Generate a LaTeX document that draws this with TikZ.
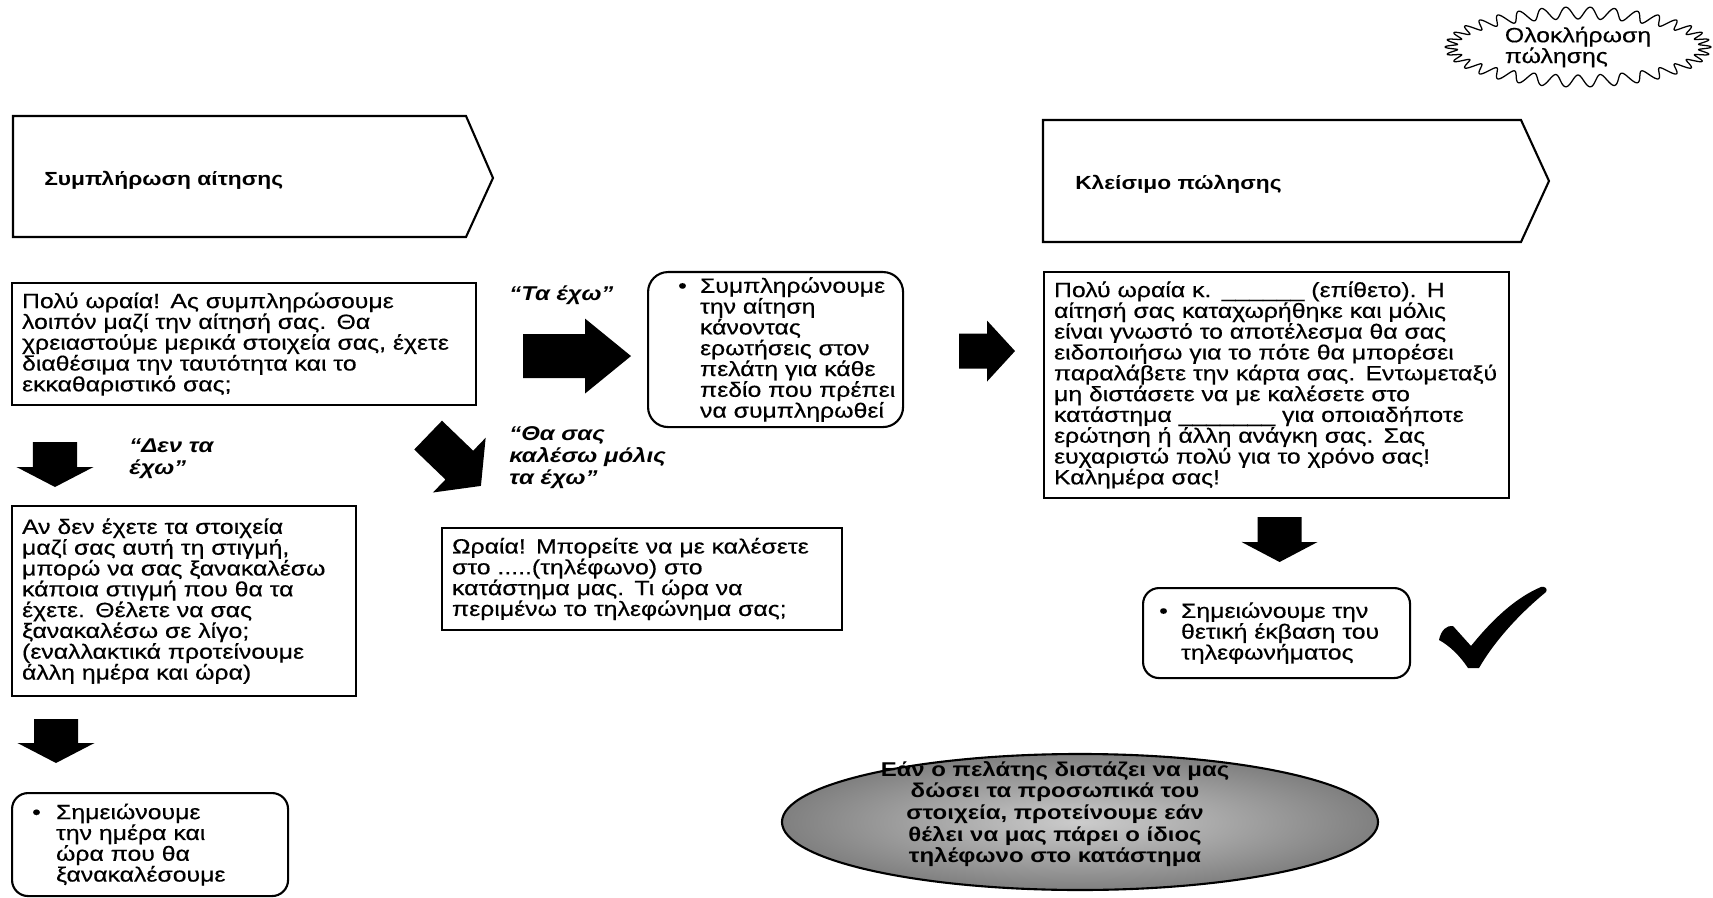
\documentclass[tikz,border=0pt]{standalone}
\usepackage{fontspec}
\setmainfont{Liberation Sans}[FakeStretch=1.2, UprightFeatures={FakeBold=0.4}]
\usetikzlibrary{calc,shapes.geometric}
\newcommand\txtfont{\fontsize{14.7pt}{14.8pt}\selectfont\lineskiplimit=-10pt}
\newcommand\hdfont{\fontsize{13.5pt}{15pt}\selectfont\bfseries}
\newcommand\lblfont{\fontsize{14.2pt}{15.6pt}\selectfont\bfseries\itshape\lineskiplimit=-10pt}
\newcommand\hintfont{\fontsize{14.2pt}{15.4pt}\selectfont\bfseries\lineskiplimit=-10pt}
\tikzset{
  frame/.style={draw=black, line width=1.5pt},
  txtbox/.style={frame, anchor=north west, align=left, inner xsep=2.5mm, inner ysep=1mm, font=\txtfont},
  note/.style={txtbox, rounded corners=5mm, inner xsep=1mm},
  lbl/.style={anchor=west, align=left, inner sep=0pt, font=\lblfont},
  hd/.style={anchor=west, inner sep=0pt, font=\hdfont},
  % block arrow: shaft width, head width, head length
  blk/.style n args={3}{fill=black, to path={
    let \p1=(\tikztostart), \p2=(\tikztotarget),
        \n1={atan2(\y2-\y1,\x2-\x1)}, \n2={veclen(\x2-\x1,\y2-\y1)} in
    {[shift={(\p1)}, rotate=\n1]
      (0pt,-#1/2) -- ({\n2-#3},-#1/2) -- ({\n2-#3},-#2/2) -- ({\n2},0pt)
      -- ({\n2-#3},#2/2) -- ({\n2-#3},#1/2) -- (0pt,#1/2) -- cycle}}},
  hint/.style={ellipse, draw=black, line width=1.5pt, inner color=black!20, outer color=black!50},
  burst/.style={draw=black, line width=0.9pt, line join=round}
}
\begin{document}
\begin{tikzpicture}[x=0.25mm, y=-0.25mm]
  \useasboundingbox (0,0) rectangle (1713,898);

  % stage headers
  \draw[frame] (13,116) -- (466,116) -- (493,178) -- (466,237) -- (13,237) -- cycle;
  \node[hd] (fillhd) at (44,180) {Συμπλήρωση αίτησης};
  \draw[frame] (1043,120) -- (1521,120) -- (1549,181) -- (1521,242) -- (1043,242) -- cycle;
  \node[hd] (closehd) at (1075,184) {Κλείσιμο πώλησης};

  % end of sale
  \node[font=\txtfont, align=left, inner sep=0pt] (done) at (1578,47) {Ολοκλήρωση\\πώλησης};
  \draw[burst] plot[domain=0:360, samples=721]
    ({1578+(127+6*cos(34*\x))*cos(\x)}, {47+(34+6*cos(34*\x))*sin(\x)}) -- cycle;

  % text boxes
  \node[txtbox, text width=111mm, minimum height=30.5mm] (intro) at (11,282)
    {Πολύ ωραία! Ας συμπληρώσουμε\\ λοιπόν μαζί την αίτησή σας. Θα\\
     χρειαστούμε μερικά στοιχεία σας, έχετε\\ διαθέσιμα την ταυτότητα και το\\
     εκκαθαριστικό σας;};
  \node[note, text width=61.75mm, minimum height=38.75mm] (fill) at (647,271)
    {\leftskip=12mm \llap{\textbullet\hspace{3.3mm}}Συμπληρώνουμε\\ την αίτηση\\ κάνοντας\\
     ερωτήσεις στον\\ πελάτη για κάθε\\ πεδίο που πρέπει\\ να συμπληρωθεί\par};
  \node[txtbox, text width=111.25mm, minimum height=56.5mm] (close) at (1043,271)
    {Πολύ ωραία κ. \_\_\_\_\_\_ (επίθετο). Η\\ αίτησή σας καταχωρήθηκε και μόλις\\
     είναι γνωστό το αποτέλεσμα θα σας\\ ειδοποιήσω για το πότε θα μπορέσει\\
     παραλάβετε την κάρτα σας. Εντωμεταξύ\\ μη διστάσετε να με καλέσετε στο\\
     κατάστημα \_\_\_\_\_\_\_ για οποιαδήποτε\\ ερώτηση ή άλλη ανάγκη σας. Σας\\
     ευχαριστώ πολύ για το χρόνο σας!\\ Καλημέρα σας!};
  \node[txtbox, text width=81mm, minimum height=47.5mm] (nohave) at (11,505)
    {Αν δεν έχετε τα στοιχεία\\ μαζί σας αυτή τη στιγμή,\\ μπορώ να σας ξανακαλέσω\\
     κάποια στιγμή που θα τα\\ έχετε. Θέλετε να σας\\ ξανακαλέσω σε λίγο;\\
     (εναλλακτικά προτείνουμε\\ άλλη ημέρα και ώρα)};
  \node[txtbox, text width=95mm, minimum height=25.5mm] (later) at (441,527)
    {Ωραία! Μπορείτε να με καλέσετε\\ στο .....(τηλέφωνο) στο\\
     κατάστημα μας. Τι ώρα να\\ περιμένω το τηλεφώνημα σας;};
  \node[note, rounded corners=4mm, text width=67mm, minimum height=25.75mm] (note1) at (11,792)
    {\leftskip=10mm \llap{\textbullet\hspace{3.8mm}}Σημειώνουμε\\ την ημέρα και\\
     ώρα που θα\\ ξανακαλέσουμε\par};
  \node[note, rounded corners=4mm, text width=64.75mm, minimum height=22.5mm] (note2) at (1142,587)
    {\leftskip=8.5mm \llap{\textbullet\hspace{3.3mm}}Σημειώνουμε την\\ θετική έκβαση του\\
     τηλεφωνήματος\par};

  % answers
  \node[lbl] (havelbl) at (509,295) {“Τα έχω”};
  \node[lbl] (nohavelbl) at (129,459) {“Δεν τα\\ έχω”};
  \node[lbl] (laterlbl) at (509,458) {“Θα σας\\ καλέσω μόλις\\ τα έχω”};

  % block arrows
  \fill[blk={11mm}{18.75mm}{11.5mm}] ($(intro.east)+(46,12)$) to ($(fill.west)+(-16,6.5)$);
  \fill[blk={8.75mm}{15.25mm}{7mm}] ($(fill.east)+(55,1.5)$) to ($(close.west)+(-28,-34)$);
  \fill[blk={11mm}{19.25mm}{5mm}] ($(intro.south west)+(44,36)$) to ($(nohave.north west)+(44,-18)$);
  \fill[blk={11mm}{19.25mm}{5mm}] ($(nohave.south west)+(45,22)$) to ($(note1.north west)+(45,-29)$);
  \fill[blk={11mm}{19mm}{5mm}] ($(close.south)+(3,18)$) to ($(note2.north)+(3,-25)$);
  \fill[blk={10mm}{19mm}{7.5mm}] ($(intro.south east)+(-49,29)$) to ($(later.north west)+(40,-41)$);

  % tick
  \fill (1439,640) .. controls (1441,630) and (1447,625) .. (1453,626) -- (1471,646)
    .. controls (1492,620) and (1515,598) .. (1541,587)
    .. controls (1545,586) and (1548,589) .. (1546,592)
    .. controls (1518,615) and (1494,642) .. (1479,668) -- (1468,668)
    .. controls (1460,656) and (1450,646) .. (1439,640) -- cycle;

  % hint
  \node[hint, minimum width=149mm, minimum height=34mm] (hint) at (1080,822) {};
  \node[font=\hintfont, align=center, inner sep=0pt] (hinttxt) at ($(hint.center)+(-25,-8)$)
    {Εάν ο πελάτης διστάζει να μας\\ δώσει τα προσωπικά του\\ στοιχεία, προτείνουμε εάν\\
     θέλει να μας πάρει ο ίδιος\\ τηλέφωνο στο κατάστημα};
\end{tikzpicture}
\end{document}
